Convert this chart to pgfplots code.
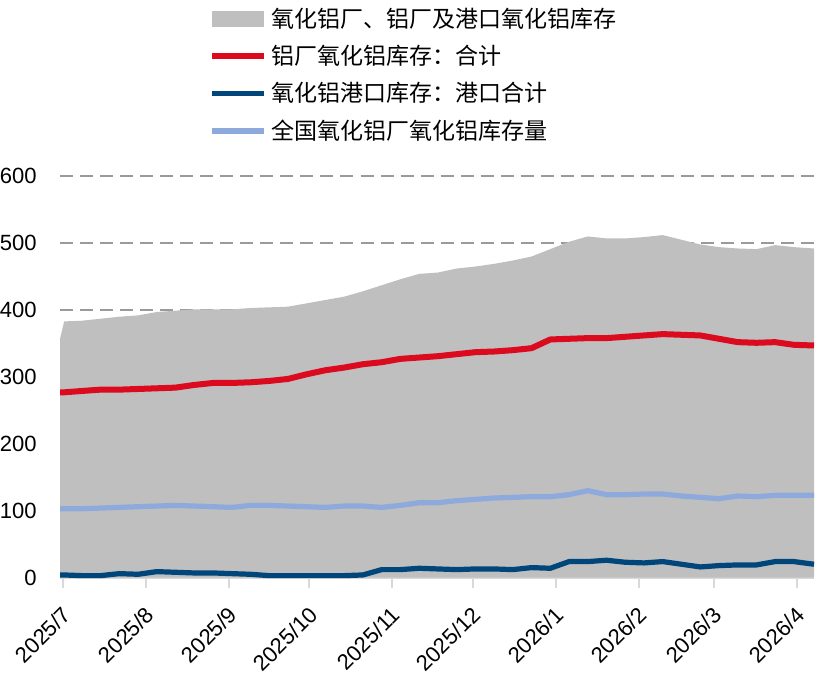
\documentclass[border=0pt]{standalone}
\usepackage{fontspec}
\setmainfont{Liberation Sans}
\newfontfamily\cjk{Noto Sans CJK SC}
\usepackage{pgfplots}
\pgfplotsset{compat=1.18}
\usepackage{pgfplotstable}
\definecolor{areagray}{HTML}{BFBFBF}
\definecolor{cred}{HTML}{DC0A1E}
\definecolor{cnavy}{HTML}{00467A}
\definecolor{clblue}{HTML}{8EA9DB}
\definecolor{gridgray}{HTML}{9A9A9A}
\pgfplotstableread{
d total red lblue navy
-1.1 358 277 103 4
0.4 383 277 103 4
7 384 279 103 3
14 387 281 104 3
21 390 281 105 6
28 392 282 106 5
35 397 283 107 9
42 399 284 108 8
49 401 288 107 7
56 401 291 106 7
63 401 291 105 6
70 403 292 108 5
77 404 294 108 3
84 405 297 107 3
91 410 304 106 3
98 415 310 105 3
105 420 314 107 3
112 428 319 107 4
119 437 322 105 12
126 446 327 108 12
133 454 329 112 14
140 456 331 112 13
147 462 334 115 12
154 465 337 117 13
161 469 338 119 13
168 474 340 120 12
175 480 343 121 15
182 491 356 121 14
189 502 357 124 24
196 510 358 130 24
203 507 358 124 26
210 507 360 124 23
217 509 362 125 22
224 512 364 125 24
231 505 363 122 20
238 498 362 120 16
245 494 357 118 18
252 492 352 122 19
259 491 351 121 19
266 497 352 123 24
273 494 348 123 24
280.5 492 347 123 20
}\datatable
\begin{document}
\begin{tikzpicture}
\begin{axis}[
  scale only axis,
  width=376.5pt, height=200.5pt,
  xmin=-1.1, xmax=280.5,
  ymin=0, ymax=600,
  ytick={0,100,200,300,400,500,600},
  xtick={0,31,62,92,123,153,184,215,243,274},
  xticklabels={2025/7,2025/8,2025/9,2025/10,2025/11,2025/12,2026/1,2026/2,2026/3,2026/4},
  xticklabel style={font=\fontsize{11}{13}\selectfont, inner sep=0pt, anchor=north east, xshift=-1pt, rotate=45},
  xticklabel shift=8.5pt,
  yticklabel style={font=\fontsize{11}{13}\selectfont, anchor=east, inner sep=0pt, xshift=-6.5pt},
  /pgf/number format/assume math mode=true,
  axis x line*=bottom,
  axis y line*=left,
  y axis line style={draw=none},
  x axis line style={draw=gray!30, line width=1pt, -},
  xtick style={draw=gray!30, line width=1pt},
  tick align=outside,
  major tick length=5pt,
  ytick style={draw=none},
  ymajorgrids,
  grid style={gridgray, line width=0.9pt, dash pattern=on 6.5pt off 3.5pt},
  axis on top=false,
  clip=false,
  legend cell align=left,
  legend style={at={(0.197,1.44)}, anchor=north west, draw=none, fill=none,
    font=\cjk\fontsize{11.5}{13}\selectfont, row sep=3.4pt, inner xsep=0pt, inner ysep=2pt,
    /tikz/every even column/.append style={column sep=7pt}},
  legend image code/.code={\draw[#1] (0pt,0pt) -- (26pt,0pt);},
]
\addplot[fill=areagray, draw=none, area legend,
  legend image code/.code={\fill[areagray] (0pt,-4pt) rectangle (26pt,4pt);}]
  table[x=d, y=total] {\datatable} \closedcycle;
\addlegendentry{氧化铝厂、铝厂及港口氧化铝库存}
\addplot[cred, line width=3pt, line join=round] table[x=d, y=red] {\datatable};
\addlegendentry{铝厂氧化铝库存：合计}
\addplot[cnavy, line width=2.6pt, line join=round] table[x=d, y=navy] {\datatable};
\addlegendentry{氧化铝港口库存：港口合计}
\addplot[clblue, line width=2.6pt, line join=round] table[x=d, y=lblue] {\datatable};
\addlegendentry{全国氧化铝厂氧化铝库存量}
\end{axis}
\end{tikzpicture}
\end{document}
